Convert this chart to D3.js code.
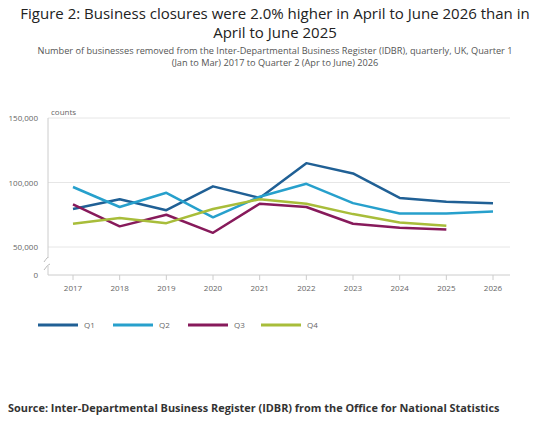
<!DOCTYPE html>
<html><head><meta charset="utf-8">
<script src="https://cdn.jsdelivr.net/npm/d3@7"></script>
<style>body{margin:0;background:#fff;font-family:"Open Sans",sans-serif;}</style>
</head><body>
<script>
const years = [2017, 2018, 2019, 2020, 2021, 2022, 2023, 2024, 2025, 2026];
const q1 = [79500, 87000, 78500, 97000, 88000, 115000, 107000, 88000, 85000, 84000];
const q2 = [96500, 81000, 92000, 73000, 89000, 99000, 84000, 76000, 76000, 77500];
const q3 = [83000, 66000, 75000, 61000, 83500, 81000, 68000, 65000, 63500];
const q4 = [68000, 72500, 68500, 79500, 87000, 83500, 75500, 69000, 66500];
const seriesNames = ["Q1", "Q2", "Q3", "Q4"];
const colors = ["#206095", "#27a0cc", "#871a5b", "#a8bd3a"];
const yTicks = [0, 50000, 100000, 150000];

const svg = d3.select("body").append("svg").attr("width", 550).attr("height", 430);

svg.append("text").attr("x", 275).attr("y", 19).attr("text-anchor", "middle")
  .attr("font-size", 15).attr("fill", "#222").text("Figure 2: Business closures were 2.0% higher in April to June 2026 than in");
svg.append("text").attr("x", 275).attr("y", 38).attr("text-anchor", "middle")
  .attr("font-size", 15).attr("fill", "#222").text("April to June 2025");
svg.append("text").attr("x", 275).attr("y", 54).attr("text-anchor", "middle")
  .attr("font-size", 9.2).attr("fill", "#555").text("Number of businesses removed from the Inter-Departmental Business Register (IDBR), quarterly, UK, Quarter 1");
svg.append("text").attr("x", 275).attr("y", 66).attr("text-anchor", "middle")
  .attr("font-size", 9.2).attr("fill", "#555").text("(Jan to Mar) 2017 to Quarter 2 (Apr to June) 2026");

const x = d3.scalePoint().domain(years).range([73, 493]);
const y = d3.scaleLinear().domain([0, 50000, 150000]).range([275, 247, 118]);

// gridlines
svg.append("g").selectAll("line").data(yTicks.slice(1)).join("line")
  .attr("x1", 48).attr("x2", 510).attr("y1", d => y(d)).attr("y2", d => y(d))
  .attr("stroke", "#e6e6e6");

svg.append("g").selectAll("text").data(yTicks).join("text")
  .attr("x", 38).attr("y", d => y(d) + 3).attr("text-anchor", "end")
  .attr("font-size", 8).attr("fill", "#666").text(d => d3.format(",")(d));
svg.append("text").attr("x", 51).attr("y", 115).attr("font-size", 8).attr("fill", "#666").text("counts");

// axes lines
svg.append("line").attr("x1", 48).attr("x2", 48).attr("y1", 118).attr("y2", 258).attr("stroke", "#ccc");
svg.append("line").attr("x1", 48).attr("x2", 48).attr("y1", 266).attr("y2", 275).attr("stroke", "#ccc");
svg.append("path").attr("d", "M44,262 Q48,256 48,258 M44,270 Q48,264 50,264").attr("fill", "none").attr("stroke", "#bbb");
svg.append("line").attr("x1", 48).attr("x2", 510).attr("y1", 275).attr("y2", 275).attr("stroke", "#ccc");
svg.append("g").selectAll("line").data(years).join("line")
  .attr("x1", d => x(d)).attr("x2", d => x(d)).attr("y1", 275).attr("y2", 280).attr("stroke", "#ccc");
svg.append("g").selectAll("text").data(years).join("text")
  .attr("x", d => x(d)).attr("y", 291).attr("text-anchor", "middle")
  .attr("font-size", 8).attr("fill", "#666").text(d => d);

const line = d3.line().x((d, i) => x(years[i])).y(d => y(d));
[q1, q2, q3, q4].forEach((s, i) => {
  svg.append("path").attr("d", line(s)).attr("fill", "none")
    .attr("stroke", colors[i]).attr("stroke-width", 2.5).attr("stroke-linejoin", "round");
});

// legend
const lg = svg.append("g").selectAll("g").data(seriesNames).join("g")
  .attr("transform", (d, i) => `translate(${[38, 113, 188, 261][i]},325)`);
lg.append("line").attr("x1", 0).attr("x2", 40).attr("stroke", (d, i) => colors[i]).attr("stroke-width", 3);
lg.append("text").attr("x", 46).attr("y", 3).attr("font-size", 8).attr("fill", "#666").text(d => d);

svg.append("text").attr("x", 8).attr("y", 412).attr("font-size", 10.9).attr("font-weight", "bold")
  .attr("fill", "#333").text("Source: Inter-Departmental Business Register (IDBR) from the Office for National Statistics");
</script>
</body></html>
